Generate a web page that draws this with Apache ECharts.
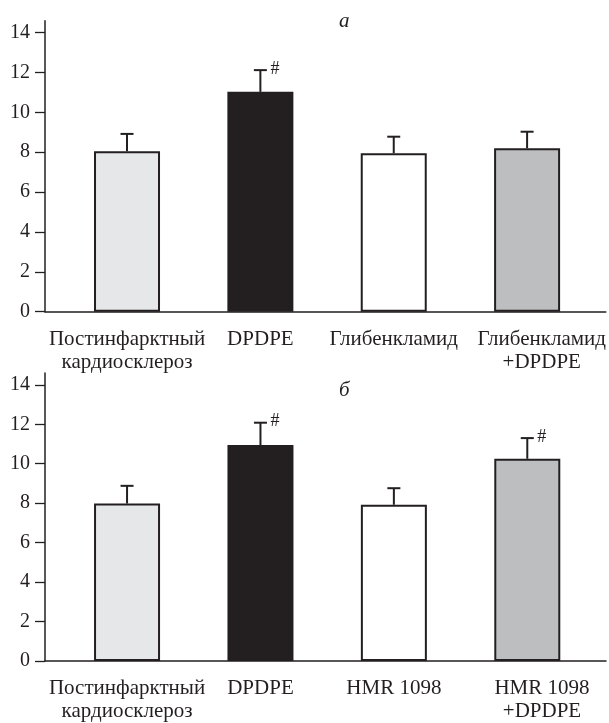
<!DOCTYPE html>
<html>
<head>
<meta charset="utf-8">
<script src="https://cdn.jsdelivr.net/npm/echarts@6/dist/echarts.min.js"></script>
<style>html,body{margin:0;padding:0;background:#fff;}#c{width:609px;height:723px;}</style>
</head>
<body>
<div id="c"></div>
<script>
const categoriesA = ['Постинфарктный\nкардиосклероз', 'DPDPE', 'Глибенкламид', 'Глибенкламид\n+DPDPE'];
const categoriesB = ['Постинфарктный\nкардиосклероз', 'DPDPE', 'HMR 1098', 'HMR 1098\n+DPDPE'];
const meansA = [8.05, 11.03, 7.95, 8.2];
const errTopA = [8.92, 12.12, 8.78, 9.03];
const markA = [false, true, false, false];
const meansB = [7.98, 10.95, 7.92, 10.25];
const errTopB = [8.88, 12.08, 8.76, 11.3];
const markB = [false, true, false, true];
const yTicks = [0, 2, 4, 6, 8, 10, 12, 14];
const panelTitles = ['а', 'б'];
const barColors = ['#e6e7e8', '#231f20', '#ffffff', '#bcbec0'];

const INK = '#231f20';
const FONT = '"Liberation Serif", "DejaVu Serif", serif';
// label anchor positions along the x axis (last label sits slightly right of its bar, as in the source)
const labelSlots = [0, 1, 2, 3.11];

function xAxisFor(cats, gi) {
  return {
    type: 'value', gridIndex: gi, min: -0.615, max: 3.59,
    axisLine: { show: true, onZero: false, lineStyle: { color: INK, width: 1.5 } },
    axisTick: { show: false },
    splitLine: { show: false },
    axisLabel: {
      customValues: labelSlots,
      formatter: v => cats[Math.round(v)],
      color: INK, fontFamily: FONT, fontSize: 21, lineHeight: 23, margin: 16,
      hideOverlap: false
    }
  };
}
function yAxisFor(gi) {
  return {
    type: 'value', gridIndex: gi, min: 0, max: 14.6,
    axisLine: { show: true, onZero: false, lineStyle: { color: INK, width: 1.5 } },
    axisTick: { show: true, customValues: yTicks, length: 10, lineStyle: { color: INK, width: 1.3 } },
    splitLine: { show: false },
    axisLabel: { customValues: yTicks, color: INK, fontFamily: FONT, fontSize: 20, margin: 15 }
  };
}
function barSeries(means, gi) {
  return {
    type: 'bar', xAxisIndex: gi, yAxisIndex: gi, barWidth: 66,
    data: means.map((v, i) => ({ value: [i, v], itemStyle: { color: barColors[i], borderColor: INK, borderWidth: 2 } })),
    silent: true, z: 2
  };
}
function errSeries(means, tops, marks, gi) {
  return {
    type: 'custom', xAxisIndex: gi, yAxisIndex: gi, z: 3, silent: true,
    data: means.map((v, i) => [i, v, tops[i], marks[i] ? 1 : 0]),
    renderItem: function (params, api) {
      const x = api.value(0);
      const p0 = api.coord([x, api.value(1)]);
      const p1 = api.coord([x, api.value(2)]);
      const children = [
        { type: 'line', shape: { x1: p0[0], y1: p0[1], x2: p1[0], y2: p1[1] }, style: { stroke: INK, lineWidth: 2 } },
        { type: 'line', shape: { x1: p1[0] - 6.5, y1: p1[1], x2: p1[0] + 6.5, y2: p1[1] }, style: { stroke: INK, lineWidth: 2 } }
      ];
      if (api.value(3)) {
        children.push({ type: 'text', style: { text: '#', x: p1[0] + 10, y: p1[1] - 1, fill: INK, font: '18px ' + FONT, textAlign: 'left', textVerticalAlign: 'middle' } });
      }
      return { type: 'group', children: children };
    }
  };
}

const chart = echarts.init(document.getElementById('c'), null, { renderer: 'canvas' });
chart.setOption({
  animation: false,
  backgroundColor: '#ffffff',
  title: [
    { text: panelTitles[0], left: 334, top: 6, textStyle: { fontFamily: FONT, fontStyle: 'italic', fontWeight: 'normal', fontSize: 21, color: INK } },
    { text: panelTitles[1], left: 334, top: 375, textStyle: { fontFamily: FONT, fontStyle: 'italic', fontWeight: 'normal', fontSize: 21, color: INK } }
  ],
  grid: [
    { left: 45, right: 3, top: 20.7, height: 291 },
    { left: 45, right: 3, top: 373, height: 291.5 }
  ],
  xAxis: [xAxisFor(categoriesA, 0), xAxisFor(categoriesB, 1)],
  yAxis: [yAxisFor(0), yAxisFor(1)],
  series: [
    barSeries(meansA, 0), errSeries(meansA, errTopA, markA, 0),
    barSeries(meansB, 1), errSeries(meansB, errTopB, markB, 1)
  ]
});
</script>
</body>
</html>
